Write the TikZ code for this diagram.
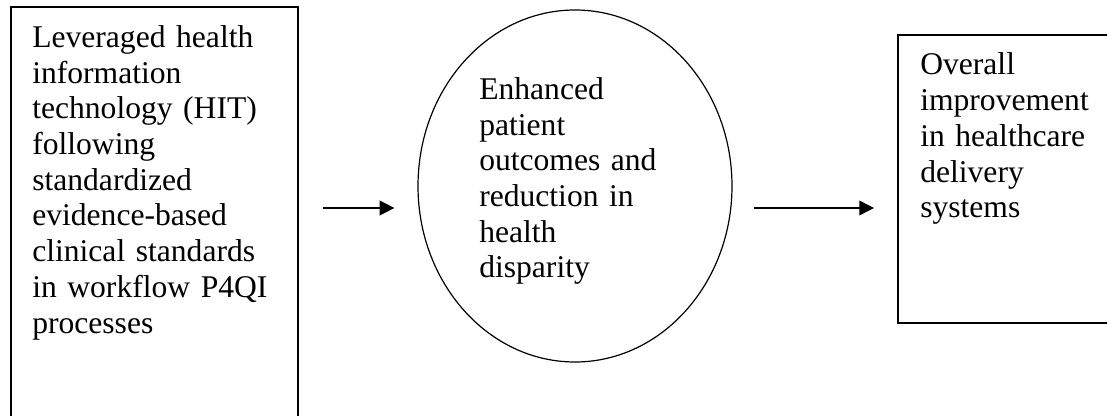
\documentclass[tikz,border=0pt]{standalone}
\usepackage{fontspec}
\setmainfont{Liberation Serif}
\usetikzlibrary{shapes.geometric,arrows.meta}
\begin{document}
\begin{tikzpicture}[x=0.75pt,y=-0.75pt,
  box/.style={draw,line width=1.5pt,rectangle,inner sep=0pt},
  oval/.style={draw,line width=0.9pt,ellipse,inner sep=0pt},
  txt/.style={anchor=base west,align=left,inner sep=0pt,text width=240pt,font=\fontsize{23.7pt}{26.8pt}\selectfont},
  arr/.style={-{Triangle[length=11pt,width=11pt]},line width=1.1pt}]
\useasboundingbox (0,0) rectangle (1107,416);
\fill[white] (0,0) rectangle (1107,416);
\node[box,minimum width=215.25pt,minimum height=317.25pt] (hit) at (154.5,218.5) {};
\node[oval,minimum width=235.5pt,minimum height=264pt] (ell) at (575,186) {};
\node[box,minimum width=166.5pt,minimum height=216pt] (flow) at (1009,179) {};
\node[txt] (hittext) at (32,47.3) {Leveraged health\\information\\technology (HIT)\\following\\standardized\\evidence-based\\clinical standards\\in workflow P4QI\\processes};
\node[txt] (elltext) at (479,99.3) {Enhanced\\patient\\outcomes and\\reduction in\\health\\disparity};
\node[txt] (flowtext) at (920,75) {Overall\\improvement\\in healthcare\\delivery\\systems};
\coordinate (row) at (0,208);
\draw[arr,shorten <=18pt,shorten >=17.25pt] (hit.east |- row) -- (ell.west |- row);
\draw[arr,shorten <=15.75pt,shorten >=17.25pt] (ell.east |- row) -- (flow.west |- row);
\end{tikzpicture}
\end{document}
